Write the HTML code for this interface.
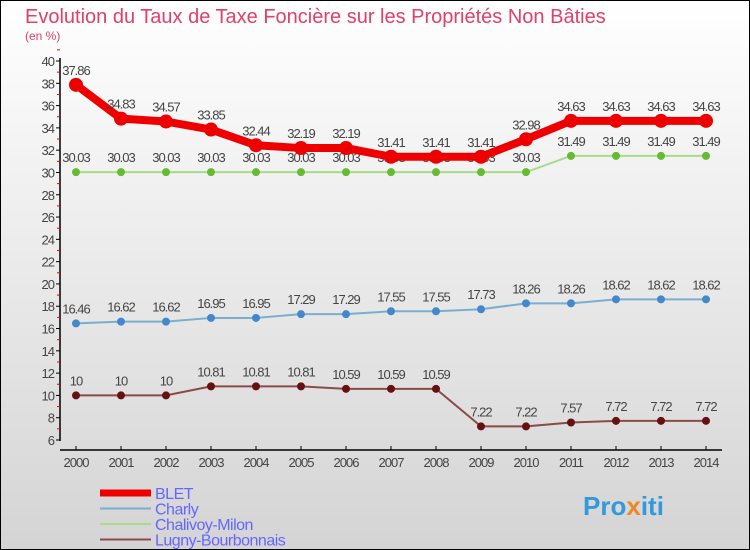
<!DOCTYPE html>
<html><head><meta charset="utf-8"><style>
body{margin:0;}
#c{width:750px;height:550px;position:relative;overflow:hidden;font-family:"Liberation Sans",sans-serif;}
</style></head><body>
<div id="c">
<svg width="750" height="550" id="svg">
<defs><linearGradient id="bg" x1="0" y1="0" x2="0" y2="1"><stop offset="0" stop-color="#ffffff"/><stop offset="1" stop-color="#d4d4d4"/></linearGradient></defs>
<rect x="0.5" y="0.5" width="749" height="549" fill="url(#bg)" stroke="#000"/>
<text x="25" y="23" font-size="20" fill="#e0406a">Evolution du Taux de Taxe Foncière sur les Propriétés Non Bâties</text>
<text x="25" y="40" font-size="12" fill="#e0406a">(en %)</text>
<g id="axes"></g><g id="series"></g><g id="legend"></g>
<text x="583" y="515" font-size="26" font-weight="bold" fill="#3399dd">Pro<tspan fill="#ee8822">x</tspan>iti</text>
</svg></div>
<script>
const years=[2000,2001,2002,2003,2004,2005,2006,2007,2008,2009,2010,2011,2012,2013,2014];
const blet=[37.86,34.83,34.57,33.85,32.44,32.19,32.19,31.41,31.41,31.41,32.98,34.63,34.63,34.63,34.63];
const charly=[16.46,16.62,16.62,16.95,16.95,17.29,17.29,17.55,17.55,17.73,18.26,18.26,18.62,18.62,18.62];
const chalivoy=[30.03,30.03,30.03,30.03,30.03,30.03,30.03,30.03,30.03,30.03,30.03,31.49,31.49,31.49,31.49];
const lugny=[10,10,10,10.81,10.81,10.81,10.59,10.59,10.59,7.22,7.22,7.57,7.72,7.72,7.72];
const yTicks=[6,8,10,12,14,16,18,20,22,24,26,28,30,32,34,36,38,40];
const NS="http://www.w3.org/2000/svg";
const X=i=>76+i*45;
const Y=v=>440-(v-6)*(379/34);
function mk(p,t,a){const e=document.createElementNS(NS,t);for(const k in a)e.setAttribute(k,a[k]);p.appendChild(e);return e;}
const ax=document.getElementById('axes');
let e=mk(ax,'line',{x1:60,y1:58,x2:60,y2:441,stroke:'#000','stroke-width':1.5});


e=mk(ax,'line',{x1:60,y1:450,x2:722,y2:450,stroke:'#000','stroke-width':1.5});


yTicks.forEach(v=>{
 mk(ax,'line',{x1:56,x2:60,y1:Y(v),y2:Y(v),stroke:'#000'});
 mk(ax,'line',{x1:57,x2:60,y1:Y(v+1),y2:Y(v+1),stroke:'#e00'});
 const t=mk(ax,'text',{x:54,y:Y(v)+5,'font-size':13,'text-anchor':'end',fill:'#444','letter-spacing':'-1'});t.textContent=v;
 
 
});
years.forEach((y,i)=>{
 mk(ax,'line',{x1:X(i),x2:X(i),y1:446,y2:450,stroke:'#000'});
 const t=mk(ax,'text',{x:X(i),y:467,'font-size':13,'text-anchor':'middle',fill:'#444','letter-spacing':'-1'});t.textContent=y;
 
 
});
const sg=document.getElementById('series');
function series(name,data,col,lw,r,dot){
 const g=mk(sg,'g',{});
 
 
 const l=mk(g,'polyline',{points:data.map((v,i)=>X(i)+','+Y(v)).join(' '),fill:'none',stroke:col,'stroke-width':lw,'stroke-linejoin':'round'});
 
 
 data.forEach((v,i)=>{
  const c=mk(g,'circle',{cx:X(i),cy:Y(v),r:r,fill:dot});
  
  
  const t=mk(g,'text',{x:X(i),y:Y(v)-10,'font-size':13,'text-anchor':'middle',fill:'#444','letter-spacing':'-1'});t.textContent=v;
  
  
 });
}
series('chalivoy',chalivoy,'#a8dc88',2,4,'#66bb33');
series('charly',charly,'#7aaed0',2,4,'#4488cc');
series('lugny',lugny,'#8a4a4a',2,4,'#661111');
series('blet',blet,'#ee0000',8,7,'#ee0000');
const lg=document.getElementById('legend');
[['BLET','#ee0000',7],['Charly','#7aaed0',2],['Chalivoy-Milon','#a8dc88',2],['Lugny-Bourbonnais','#8a4a4a',2]].forEach((s,i)=>{
 const y=493+i*15.5;
 const g=mk(lg,'g',{});
 
 
 mk(g,'line',{x1:100,x2:151,y1:y,y2:y,stroke:s[1],'stroke-width':s[2]});
 const t=mk(g,'text',{x:155,y:y+6,'font-size':16,fill:'#6666ff','letter-spacing':'-0.5'});t.textContent=s[0];
});
</script>
</body></html>
